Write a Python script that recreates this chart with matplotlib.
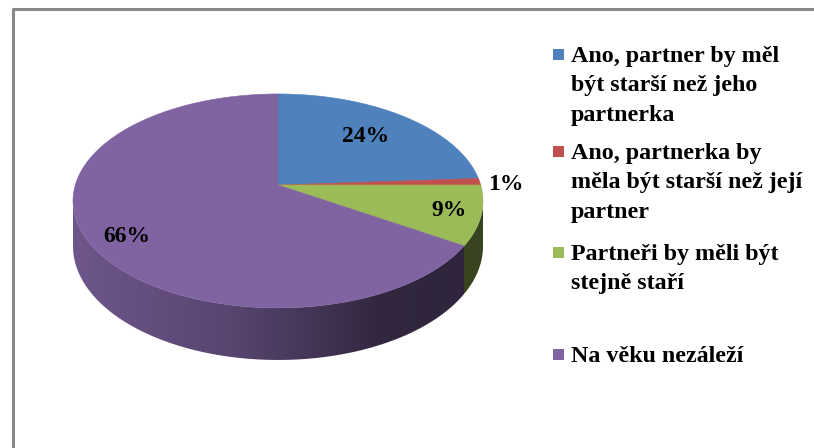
import numpy as np
import matplotlib.pyplot as plt
from matplotlib.patches import Polygon, Rectangle

# --- data ---
categories = ["Ano, partner by měl\nbýt starší než jeho\npartnerka",
              "Ano, partnerka by\nměla být starší než její\npartner",
              "Partneři by měli být\nstejně staří",
              "Na věku nezáleží"]
shares = [24, 1, 9, 66]
pct_labels = ["24%", "1%", "9%", "66%"]
colors = ["#4F81BD", "#C0504D", "#9BBB59", "#8064A2"]

# --- pie geometry (pixels) ---
CX, CY = 278, 185
RX, RY = 202.7, 104.6
PERSP = -0.149      # perspective: front of the disc is bigger
DEPTH = 44.3        # thickness of the disc
label_r = [0.68, 1.13, 0.85, 0.80]
label_dy = [0, 3, 0, 9]
FONT = "Liberation Serif"


def project(theta, r=1.0, drop=0.0):
    # theta measured clockwise from 12 o'clock
    u = r * np.sin(theta)
    v = -r * np.cos(theta)
    d = 1 + PERSP * v
    return CX + RX * u / d, CY + (RY * v + drop) / d


fig = plt.figure(figsize=(8.14, 4.48), dpi=100)
ax = fig.add_axes([0, 0, 1, 1])
ax.set_xlim(0, 814)
ax.set_ylim(448, 0)
ax.axis("off")

# chart frame
ax.plot([13, 13, 830], [460, 9, 9], color="#888888", lw=2.2, solid_capstyle="butt")

bounds = np.cumsum([0] + shares) / sum(shares) * 2 * np.pi

# visible part of the side (between the silhouette points)
vis_a = np.arccos(PERSP)            # right silhouette
vis_b = 2 * np.pi - vis_a           # left silhouette
x_left = CX - RX * 1.0114
x_right = CX + RX * 1.0114
gx = np.linspace(0, 1, 400)
shade = np.interp(gx, [0, 0.4, 0.75, 1], [0.86, 0.68, 0.39, 0.36])

# --- side walls ---
for i, col in enumerate(colors):
    t0 = max(bounds[i], vis_a)
    t1 = min(bounds[i + 1], vis_b)
    if t1 <= t0:
        continue
    ts = np.linspace(t0, t1, 120)
    xt, yt = project(ts)
    xb, yb = project(ts[::-1], drop=DEPTH)
    pts = np.column_stack([np.r_[xt, xb], np.r_[yt, yb]])
    poly = Polygon(pts, closed=True, facecolor="none", edgecolor="none",
                   transform=ax.transData)
    ax.add_patch(poly)
    rgb = np.array(plt.matplotlib.colors.to_rgb(col))
    img = (shade[:, None] * rgb[None, :])[None, :, :]
    im = ax.imshow(img, extent=(x_left, x_right, 420, 60), aspect="auto",
                   interpolation="bilinear", zorder=1)
    im.set_clip_path(poly)

# --- top face ---
for i, col in enumerate(colors):
    ts = np.linspace(bounds[i], bounds[i + 1], 200)
    xs, ys = project(ts)
    pts = np.column_stack([np.r_[CX, xs], np.r_[CY, ys]])
    ax.add_patch(Polygon(pts, closed=True, facecolor=col, edgecolor=col,
                         lw=0.4, zorder=2))

# --- data labels ---
for i, lab in enumerate(pct_labels):
    mid = (bounds[i] + bounds[i + 1]) / 2
    lx, ly = project(mid, r=label_r[i])
    ax.text(lx, ly + label_dy[i], lab, ha="center", va="center", fontsize=17,
            fontweight="bold", family=FONT, color="black", zorder=3)

ax.set_xlim(0, 814)
ax.set_ylim(448, 0)

# --- legend ---
legend_y = [55, 152, 253, 355]
for lab, col, y in zip(categories, colors, legend_y):
    ax.add_patch(Rectangle((553, y - 5.5), 11, 11, facecolor=col,
                           edgecolor="none", zorder=3))
    ax.text(571, y - 9, lab, ha="left", va="top", fontsize=17.3,
            fontweight="bold", family=FONT, linespacing=1.52, zorder=3)

fig.savefig("out.png", dpi=100)
